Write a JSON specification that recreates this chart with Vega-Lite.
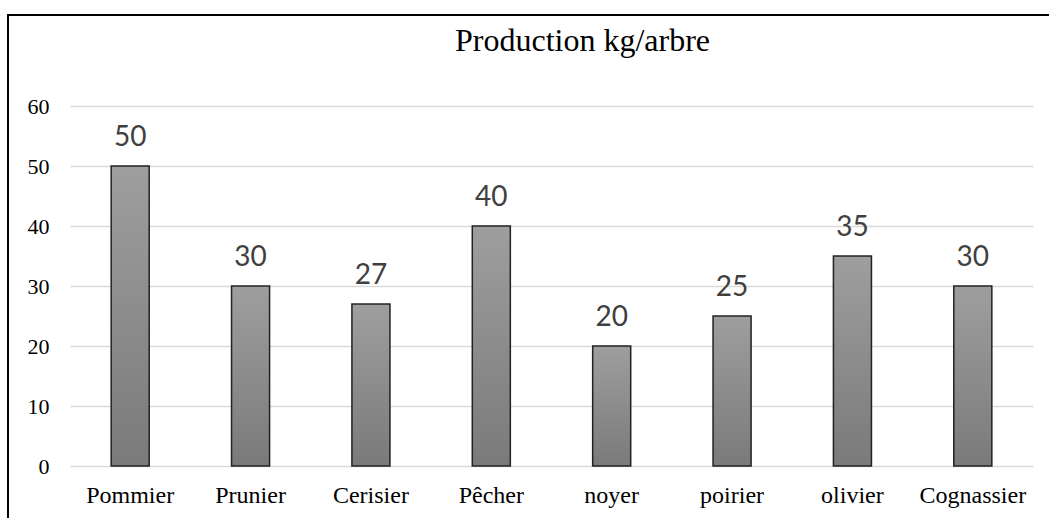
{
  "$schema": "https://vega.github.io/schema/vega-lite/v6.json",
  "autosize": {"type": "none"},
  "padding": {"left": 8, "top": 15, "right": -6, "bottom": -6},
  "width": 1047,
  "height": 509,
  "background": "white",
  "title": {
    "text": "Production kg/arbre",
    "font": "Liberation Serif",
    "fontSize": 32,
    "fontWeight": "normal",
    "color": "black",
    "anchor": "middle",
    "frame": "group",
    "baseline": "alphabetic",
    "offset": -68,
    "dx": 51
  },
  "data": {
    "values": [
      {"arbre": "Pommier", "production": 50},
      {"arbre": "Prunier", "production": 30},
      {"arbre": "Cerisier", "production": 27},
      {"arbre": "Pêcher", "production": 40},
      {"arbre": "noyer", "production": 20},
      {"arbre": "poirier", "production": 25},
      {"arbre": "olivier", "production": 35},
      {"arbre": "Cognassier", "production": 30}
    ]
  },
  "encoding": {
    "x": {
      "field": "arbre",
      "type": "nominal",
      "sort": null,
      "scale": {"range": [62, 1025], "paddingInner": 0.684, "paddingOuter": 0.342},
      "axis": {
        "title": null,
        "orient": "bottom",
        "offset": -58,
        "domain": false,
        "ticks": false,
        "grid": false,
        "labelAngle": 0,
        "labelFont": "Liberation Serif",
        "labelFontSize": 24,
        "labelColor": "black",
        "labelBaseline": "alphabetic",
        "labelPadding": 36
      }
    },
    "y": {
      "field": "production",
      "type": "quantitative",
      "scale": {"domain": [0, 60], "range": [451, 91], "nice": false, "zero": true},
      "axis": {
        "title": null,
        "orient": "left",
        "offset": -62,
        "values": [0, 10, 20, 30, 40, 50, 60],
        "domain": false,
        "ticks": false,
        "grid": true,
        "gridColor": "#d9d9d9",
        "gridWidth": 1.5,
        "labelFont": "Liberation Serif",
        "labelFontSize": 22,
        "labelColor": "black",
        "labelPadding": 21,
        "labelBaseline": "middle"
      }
    }
  },
  "layer": [
    {
      "mark": {
        "type": "bar",
        "stroke": "#222222",
        "strokeWidth": 1.5,
        "color": {
          "gradient": "linear",
          "x1": 0, "y1": 0, "x2": 0, "y2": 1,
          "stops": [
            {"offset": 0, "color": "#9e9e9e"},
            {"offset": 1, "color": "#7a7a7a"}
          ]
        }
      }
    },
    {
      "mark": {
        "type": "text",
        "font": "Lato",
        "fontSize": 28,
        "color": "#404040",
        "baseline": "alphabetic",
        "dy": -20
      },
      "encoding": {
        "text": {"field": "production", "type": "quantitative"}
      }
    }
  ],
  "config": {
    "view": {"stroke": "black", "strokeWidth": 2}
  }
}
